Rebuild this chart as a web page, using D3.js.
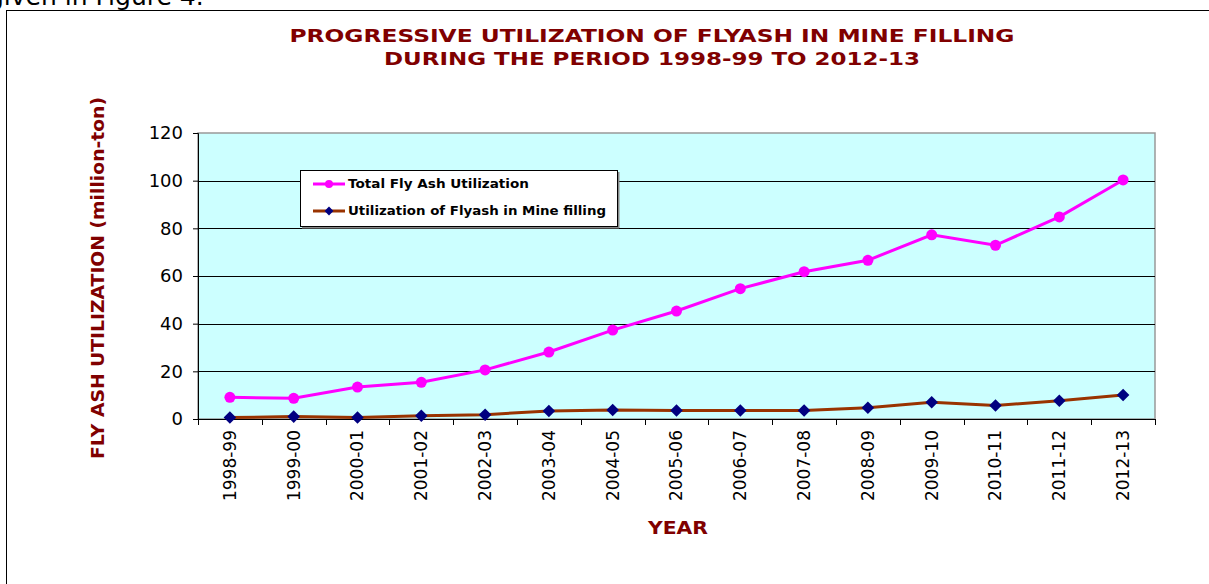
<!DOCTYPE html>
<html>
<head>
<meta charset="utf-8">
<script src="https://cdnjs.cloudflare.com/ajax/libs/d3/7.8.5/d3.min.js"></script>
<style>
  body { margin: 0; background: #fff; }
  svg { display: block; }
</style>
</head>
<body>
<div id="chart"></div>
<script>
// sizes
var chart_width = 1209;
var chart_height = 584;

// data
var years = ['1998-99','1999-00','2000-01','2001-02','2002-03','2003-04','2004-05',
             '2005-06','2006-07','2007-08','2008-09','2009-10','2010-11','2011-12','2012-13'];
var total_util = [9.1, 8.7, 13.4, 15.4, 20.6, 28.1, 37.3, 45.3, 54.7, 61.8, 66.6, 77.3, 72.9, 84.8, 100.3];
var mine_util = [0.6, 1.0, 0.6, 1.4, 1.8, 3.4, 3.8, 3.6, 3.6, 3.6, 4.7, 7.0, 5.7, 7.7, 10.1];
var y_ticks = [0, 20, 40, 60, 80, 100, 120];
var series_names = ['Total Fly Ash Utilization', 'Utilization of Flyash in Mine filling'];

var plot = {left: 198, right: 1155, top: 133, bottom: 419};
var dark_red = '#800000';
var font = 'DejaVu Sans, Verdana, sans-serif';

var svg = d3.select('#chart')
            .append('svg')
            .attr('width', chart_width)
            .attr('height', chart_height);

// leftover text of the page above the chart
svg.append('text')
    .attr('x', -12)
    .attr('y', 5)
    .attr('font-family', font)
    .attr('font-size', 25)
    .attr('fill', '#000')
    .text('given in Figure 4.');

// outer frame
svg.append('rect')
    .attr('x', 6.5)
    .attr('y', 10.5)
    .attr('width', chart_width)
    .attr('height', chart_height)
    .attr('fill', 'none')
    .attr('stroke', '#000')
    .attr('stroke-width', 1);

var x = d3.scaleBand()
          .domain(years)
          .range([plot.left, plot.right]);

var y = d3.scaleLinear()
          .domain([0, 120])
          .range([plot.bottom, plot.top]);

// plot background
svg.append('rect')
    .attr('x', plot.left)
    .attr('y', plot.top)
    .attr('width', plot.right - plot.left)
    .attr('height', plot.bottom - plot.top)
    .attr('fill', '#CCFFFF')
    .attr('stroke', '#999')
    .attr('stroke-width', 1.5);

// gridlines
svg.append('g')
    .selectAll('line')
    .data(y_ticks.filter(function(d){ return d > 0 && d < 120; }))
    .enter()
    .append('line')
    .attr('x1', plot.left)
    .attr('x2', plot.right)
    .attr('y1', function(d){ return Math.round(y(d)) + 0.5; })
    .attr('y2', function(d){ return Math.round(y(d)) + 0.5; })
    .attr('stroke', '#000')
    .attr('stroke-width', 1);

// y axis
var y_axis = d3.axisLeft(y)
               .tickValues(y_ticks)
               .tickSize(5)
               .tickPadding(10);

var yg = svg.append('g')
    .attr('transform', 'translate(' + plot.left + ',0)')
    .call(y_axis);
yg.select('.domain').attr('stroke', '#000');
yg.selectAll('text')
    .attr('font-family', font)
    .attr('font-size', 18)
    .attr('fill', '#000');

// x axis, ticks at the category borders
var x_axis = d3.axisBottom(x).tickSize(0).tickPadding(0);
var xg = svg.append('g')
    .attr('transform', 'translate(0,' + plot.bottom + ')')
    .call(x_axis);
xg.select('.domain').remove();
xg.selectAll('text')
    .attr('font-family', font)
    .attr('font-size', 17)
    .attr('fill', '#000')
    .attr('transform', 'rotate(-90)')
    .attr('text-anchor', 'end')
    .attr('x', -11)
    .attr('y', 0)
    .attr('dy', '0.35em');

svg.append('line')
    .attr('x1', plot.left)
    .attr('x2', plot.right)
    .attr('y1', plot.bottom + 0.5)
    .attr('y2', plot.bottom + 0.5)
    .attr('stroke', '#000');

svg.append('g')
    .selectAll('line')
    .data(years.concat(['end']))
    .enter()
    .append('line')
    .attr('x1', function(d, i){ return Math.round(plot.left + i * x.bandwidth()) + 0.5; })
    .attr('x2', function(d, i){ return Math.round(plot.left + i * x.bandwidth()) + 0.5; })
    .attr('y1', plot.bottom)
    .attr('y2', plot.bottom + 6)
    .attr('stroke', '#000');

var cx = function(d, i){ return x(years[i]) + x.bandwidth() / 2; };

var line = d3.line()
             .x(cx)
             .y(function(d){ return y(d); });

// mine filling series
svg.append('path')
    .datum(mine_util)
    .attr('d', line)
    .attr('fill', 'none')
    .attr('stroke', '#993300')
    .attr('stroke-width', 3);

var diamond = d3.symbol().type(d3.symbolDiamond2).size(100);

svg.append('g')
    .selectAll('path')
    .data(mine_util)
    .enter()
    .append('path')
    .attr('d', diamond)
    .attr('transform', function(d, i){ return 'translate(' + cx(d, i) + ',' + y(d) + ')'; })
    .attr('fill', '#000080');

// total series
svg.append('path')
    .datum(total_util)
    .attr('d', line)
    .attr('fill', 'none')
    .attr('stroke', '#FF00FF')
    .attr('stroke-width', 3);

svg.append('g')
    .selectAll('circle')
    .data(total_util)
    .enter()
    .append('circle')
    .attr('cx', cx)
    .attr('cy', function(d){ return y(d); })
    .attr('r', 5.5)
    .attr('fill', '#FF00FF');

// legend
var legend = svg.append('g');
legend.append('rect')
    .attr('x', 300.5)
    .attr('y', 170.5)
    .attr('width', 317)
    .attr('height', 56)
    .attr('fill', '#fff')
    .attr('stroke', '#000')
    .attr('stroke-width', 1);
legend.append('rect')
    .attr('x', 302)
    .attr('y', 227)
    .attr('width', 317)
    .attr('height', 1.5)
    .attr('fill', '#888');
legend.append('rect')
    .attr('x', 618)
    .attr('y', 172)
    .attr('width', 1.5)
    .attr('height', 56)
    .attr('fill', '#888');

var leg_colors = [['#FF00FF', '#FF00FF'], ['#993300', '#000080']];
var leg_widths = [181, 258];
series_names.forEach(function(name, i){
    var ly = 184 + i * 27;
    legend.append('line')
        .attr('x1', 313).attr('x2', 345)
        .attr('y1', ly).attr('y2', ly)
        .attr('stroke', leg_colors[i][0])
        .attr('stroke-width', 3);
    if(i === 0){
        legend.append('circle')
            .attr('cx', 329).attr('cy', ly).attr('r', 4)
            .attr('fill', leg_colors[i][1]);
    }else{
        legend.append('path')
            .attr('d', d3.symbol().type(d3.symbolDiamond2).size(50))
            .attr('transform', 'translate(329,' + ly + ')')
            .attr('fill', leg_colors[i][1]);
    }
    legend.append('text')
        .attr('x', 348)
        .attr('y', ly)
        .attr('dy', '0.35em')
        .attr('font-family', font)
        .attr('font-weight', 'bold')
        .attr('font-size', 12.5)
        .attr('textLength', leg_widths[i])
        .attr('lengthAdjust', 'spacingAndGlyphs')
        .attr('fill', '#000')
        .text(name);
});

// titles (Verdana bold is wider than DejaVu, so stretch to the reference width)
var title_lines = ['PROGRESSIVE UTILIZATION OF FLYASH IN MINE FILLING',
                   'DURING THE PERIOD 1998-99 TO 2012-13'];
var title_widths = [725, 536];
svg.append('g')
    .selectAll('text')
    .data(title_lines)
    .enter()
    .append('text')
    .attr('x', 652)
    .attr('y', function(d, i){ return 42 + i * 23; })
    .attr('text-anchor', 'middle')
    .attr('font-family', font)
    .attr('font-weight', 'bold')
    .attr('font-size', 18)
    .attr('textLength', function(d, i){ return title_widths[i]; })
    .attr('lengthAdjust', 'spacingAndGlyphs')
    .attr('fill', dark_red)
    .text(function(d){ return d; });

svg.append('text')
    .attr('transform', 'translate(104,278) rotate(-90)')
    .attr('text-anchor', 'middle')
    .attr('font-family', font)
    .attr('font-weight', 'bold')
    .attr('font-size', 17)
    .attr('textLength', 362)
    .attr('lengthAdjust', 'spacingAndGlyphs')
    .attr('fill', dark_red)
    .text('FLY ASH UTILIZATION (million-ton)');

svg.append('text')
    .attr('x', 678)
    .attr('y', 534)
    .attr('text-anchor', 'middle')
    .attr('font-family', font)
    .attr('font-weight', 'bold')
    .attr('font-size', 17)
    .attr('textLength', 60)
    .attr('lengthAdjust', 'spacingAndGlyphs')
    .attr('fill', dark_red)
    .text('YEAR');
</script>
</body>
</html>
